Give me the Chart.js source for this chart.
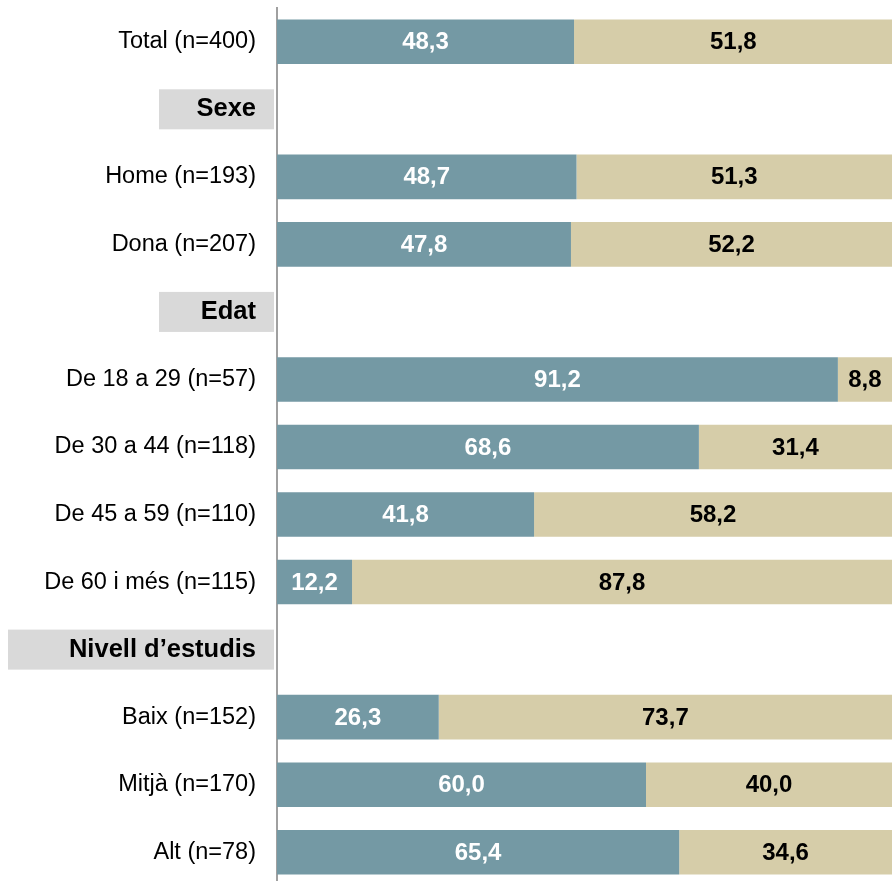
<!DOCTYPE html>
<html>
<head>
<meta charset="utf-8">
<script src="https://cdn.jsdelivr.net/npm/chart.js@4"></script>
<style>
  html, body { margin: 0; padding: 0; background: #fff; overflow: hidden; }
  #wrap { width: 892px; height: 881px; overflow: hidden; }
</style>
</head>
<body>
<div id="wrap"><canvas id="chart" width="892" height="886"></canvas></div>
<script>
// dades
const categories = ['Total (n=400)', 'Sexe', 'Home (n=193)', 'Dona (n=207)', 'Edat',
  'De 18 a 29 (n=57)', 'De 30 a 44 (n=118)', 'De 45 a 59 (n=110)', 'De 60 i més (n=115)',
  'Nivell d’estudis', 'Baix (n=152)', 'Mitjà (n=170)', 'Alt (n=78)'];
const headers = ['Sexe', 'Edat', 'Nivell d’estudis'];
const valorsA = [48.3, null, 48.7, 47.8, null, 91.2, 68.6, 41.8, 12.2, null, 26.3, 60.0, 65.4];
const valorsB = [51.8, null, 51.3, 52.2, null, 8.8, 31.4, 58.2, 87.8, null, 73.7, 40.0, 34.6];

const FONT = '"Liberation Sans", Arial, sans-serif';

// caixes grises darrere dels títols de secció
const headerBoxes = {
  id: 'headerBoxes',
  beforeDraw(chart) {
    const { ctx, scales: { y }, chartArea } = chart;
    ctx.save();
    ctx.font = 'bold 25.5px ' + FONT;
    categories.forEach((c, i) => {
      if (!headers.includes(c)) return;
      const yc = y.getPixelForTick(i);
      const right = chartArea.left - 3;
      const w = ctx.measureText(c).width;
      const left = (w + 40 > 115) ? 8 : right - 115;
      ctx.fillStyle = '#d9d9d9';
      ctx.fillRect(left, yc - 20, right - left, 40);
    });
    ctx.restore();
  }
};

// etiquetes de valor dins les barres
const valueLabels = {
  id: 'valueLabels',
  afterDatasetsDraw(chart) {
    const { ctx } = chart;
    ctx.save();
    ctx.font = 'bold 24px ' + FONT;
    ctx.textAlign = 'center';
    ctx.textBaseline = 'middle';
    chart.data.datasets.forEach((ds, di) => {
      const meta = chart.getDatasetMeta(di);
      ctx.fillStyle = di === 0 ? '#ffffff' : '#000000';
      meta.data.forEach((bar, i) => {
        const v = ds.data[i];
        if (v == null) return;
        const x = (bar.x + bar.base) / 2;
        ctx.fillText(v.toFixed(1).replace('.', ','), x, bar.y + 1);
      });
    });
    ctx.restore();
  }
};

new Chart(document.getElementById('chart'), {
  type: 'bar',
  data: {
    labels: categories,
    datasets: [
      { label: 'A', data: valorsA, backgroundColor: '#7499a4', barPercentage: 0.66, categoryPercentage: 1 },
      { label: 'B', data: valorsB, backgroundColor: '#d6cda9', barPercentage: 0.66, categoryPercentage: 1 }
    ]
  },
  options: {
    indexAxis: 'y',
    responsive: false,
    animation: false,
    layout: { padding: { top: 8, right: 0, bottom: 0, left: 0 } },
    plugins: { legend: { display: false }, tooltip: { enabled: false } },
    scales: {
      x: { stacked: true, display: false, min: 0, max: 100 },
      y: {
        stacked: true,
        grid: { display: false, drawTicks: false },
        border: { display: true, color: '#a0a0a0', width: 2 },
        afterFit(scale) {
          scale.width = 277;
          scale.paddingTop = 0;
          scale.paddingBottom = 0;
        },
        ticks: {
          padding: 21,
          color: '#000',
          font(c) {
            const lab = categories[c.index];
            return headers.includes(lab)
              ? { family: FONT, size: 25.5, weight: 'bold' }
              : { family: FONT, size: 23.5 };
          }
        }
      }
    }
  },
  plugins: [headerBoxes, valueLabels]
});
</script>
</body>
</html>
